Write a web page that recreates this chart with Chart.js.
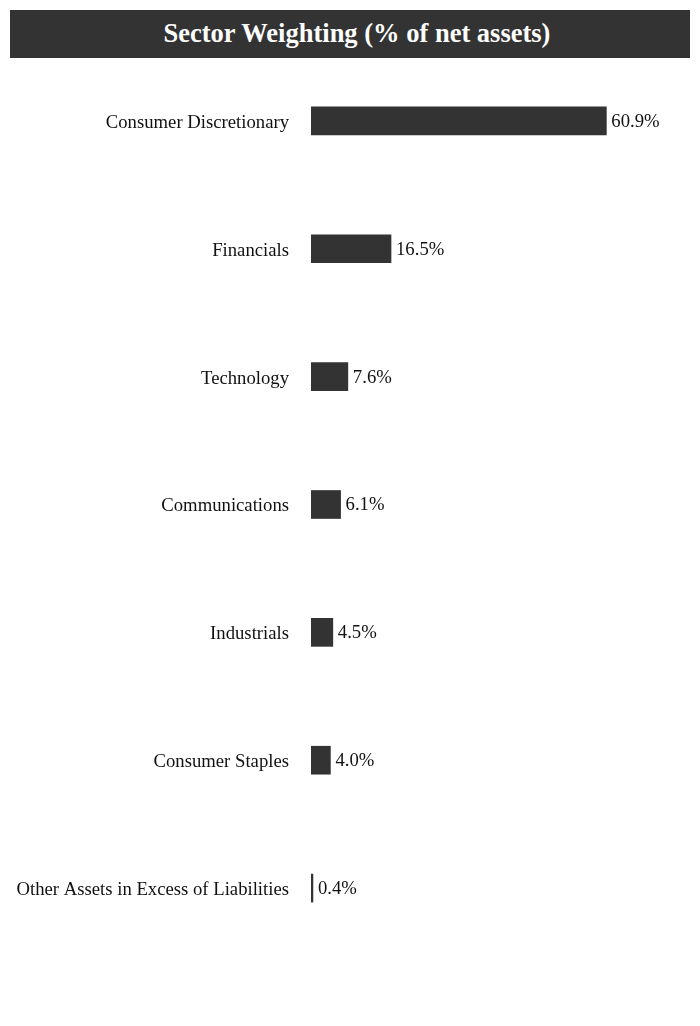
<!DOCTYPE html>
<html>
<head>
<meta charset="utf-8">
<script src="https://cdn.jsdelivr.net/npm/chart.js@4/dist/chart.umd.min.js"></script>
<style>
    body { margin: 0; background: #fff; }
    #wrap { position: relative; width: 700px; height: 1026px; }
    #title {
        position: absolute; left: 10px; top: 10px; width: 666px; height: 48px; padding-left: 14px;
        background: #333333; color: #fff; text-align: center;
        font: bold 26.5px "Liberation Serif", "Times New Roman", serif; line-height: 46px;
    }
    canvas { position: absolute; left: 0; top: 0; }
</style>
</head>
<body>
<div id="wrap">
    <canvas id="sectorChart" width="700" height="1026"></canvas>
    <div id="title">Sector Weighting (% of net assets)</div>
</div>
<script>
const sectors = ['Consumer Discretionary', 'Financials', 'Technology', 'Communications', 'Industrials', 'Consumer Staples', 'Other Assets in Excess of Liabilities'];
const weights = [60.9, 16.5, 7.6, 6.1, 4.5, 4.0, 0.4];

const serif = '"Liberation Serif", "Times New Roman", serif';

// draws "60.9%" etc. just right of each bar
const valueLabels = {
    id: 'valueLabels',
    afterDatasetsDraw(chart) {
        const ctx = chart.ctx;
        const meta = chart.getDatasetMeta(0);
        ctx.save();
        ctx.font = '18.7px ' + serif;
        ctx.fillStyle = '#111';
        ctx.textBaseline = 'middle';
        ctx.textAlign = 'left';
        meta.data.forEach((bar, i) => {
            ctx.fillText(weights[i].toFixed(1) + '%', bar.x + 5, bar.y + 1);
        });
        ctx.restore();
    }
};

new Chart(document.getElementById('sectorChart'), {
    type: 'bar',
    data: {
        labels: sectors,
        datasets: [{
            data: weights,
            backgroundColor: '#333333',
            borderWidth: 0,
            barThickness: 28
        }]
    },
    options: {
        indexAxis: 'y',
        responsive: false,
        animation: false,
        layout: { padding: { top: 57, bottom: 74, left: 0, right: 1 } },
        plugins: { legend: { display: false }, tooltip: { enabled: false } },
        scales: {
            x: { display: false, min: 0, max: 80 },
            y: {
                grid: { display: false },
                border: { display: false },
                ticks: { color: '#111', font: { family: serif, size: 18.7 }, padding: 14, labelOffset: 2 },
                afterFit(scale) { scale.width = 311; }
            }
        }
    },
    plugins: [valueLabels]
});
</script>
</body>
</html>
